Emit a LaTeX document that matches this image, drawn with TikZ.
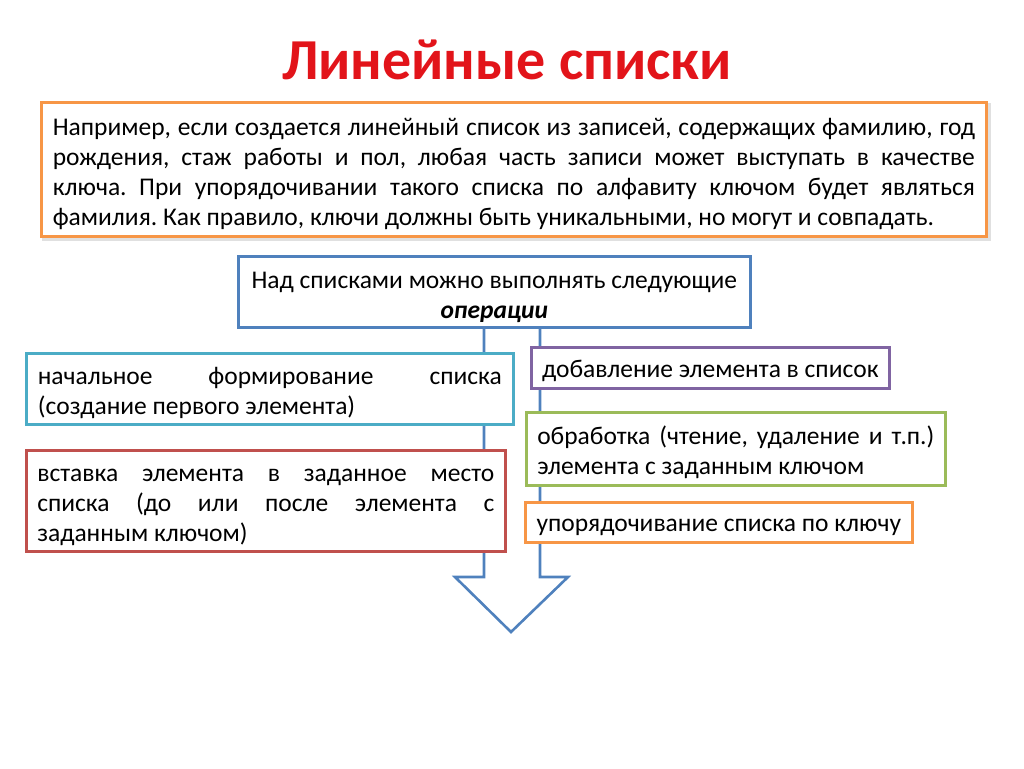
\documentclass[tikz,border=0pt]{standalone}
\usepackage{fontspec}
\setmainfont{Carlito}
\usetikzlibrary{backgrounds}
\definecolor{ttitle}{HTML}{E2141A}
\definecolor{torange}{HTML}{F79646}
\definecolor{tblue}{HTML}{4F81BD}
\definecolor{taqua}{HTML}{4BACC6}
\definecolor{tred}{HTML}{C0504D}
\definecolor{tpurple}{HTML}{8064A2}
\definecolor{tgreen}{HTML}{9BBB59}
\newcommand{\jl}[2]{\makebox[#1pt][s]{#2}}
\newcommand{\tstrut}[1]{\rule{0pt}{#1pt}}
\frenchspacing
\tikzset{
  box/.style={draw, fill=white, line width=2.6pt, inner sep=0pt, anchor=north west, align=left,
    font=\fontsize{25.5}{30}\selectfont},
  titlestyle/.style={text=ttitle, font=\fontsize{58}{64}\selectfont\bfseries},
  arrowline/.style={draw=tblue, line width=2.6pt, line join=miter}
}
\begin{document}
\begin{tikzpicture}[x=1pt,y=-1pt]
\useasboundingbox (0,0) rectangle (1024,768);
\node[titlestyle] (title) at (507,60) {Линейные списки};
\node[box, draw=torange, minimum width=945pt, minimum height=134pt] (intro) at (40,101)
 {\tstrut{27}\jl{922}{Например, если создается линейный список из записей, содержащих фамилию, год}\\
  \jl{922}{рождения, стаж работы и пол, любая часть записи может выступать в качестве}\\
  \jl{922}{ключа. При упорядочивании такого списка по алфавиту ключом будет являться}\\
  фамилия. Как правило, ключи должны быть уникальными, но могут и совпадать.};
\node[box, draw=tblue, minimum width=512pt, minimum height=71pt, align=center] (ops) at (237,255)
 {\tstrut{27}Над списками можно выполнять следующие\\ \textbf{\textit{операции}}};
\node[box, draw=taqua, minimum width=487pt, minimum height=71pt] (first) at (25,352)
 {\tstrut{26}\jl{464}{начальное формирование списка}\\ (создание первого элемента)};
\node[box, draw=tred, minimum width=479pt, minimum height=101pt] (insert) at (25,449)
 {\tstrut{26}\jl{457}{вставка элемента в заданное место}\\
  \jl{457}{списка (до или после элемента с}\\
  заданным ключом)};
\node[box, draw=tpurple, minimum width=358pt, minimum height=41pt] (add) at (530,346)
 {\tstrut{23}добавление элемента в список};
\node[box, draw=tgreen, minimum width=419pt, minimum height=73pt] (proc) at (525,411)
 {\tstrut{26}\jl{397}{обработка (чтение, удаление и т.п.)}\\ элемента с заданным ключом};
\node[box, draw=torange, minimum width=387pt, minimum height=40pt] (sort) at (524,501)
 {\tstrut{22}упорядочивание списка по ключу};
\coordinate (aL) at (484,577);
\coordinate (aR) at (540,577);
\coordinate (hL) at (455,577);
\coordinate (hR) at (568,577);
\coordinate (tip) at (511,632);
\begin{scope}[on background layer]
\fill[black!12] ([xshift=2pt,yshift=-2pt]intro.north west) rectangle ([xshift=3pt,yshift=-3pt]intro.south east);
\draw[arrowline] (ops.south -| aL) -- (aL) -- (hL) -- (tip) -- (hR) -- (aR) -- (ops.south -| aR);
\end{scope}
\end{tikzpicture}
\end{document}
